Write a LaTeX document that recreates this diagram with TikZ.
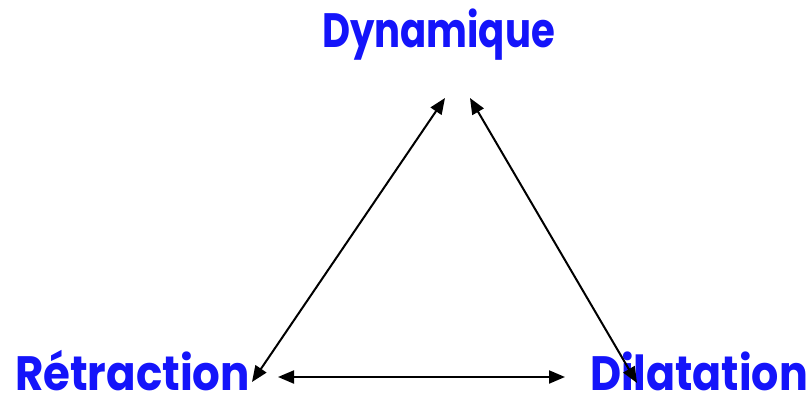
\documentclass[tikz,border=0pt]{standalone}
\usepackage{fontspec}
\setmainfont{Poppins}
\usetikzlibrary{arrows.meta}
\definecolor{labelblue}{RGB}{20,20,250}
\newcommand{\fitlabel}[2]{\resizebox{#1}{34pt}{\smash{#2}\rule{0pt}{\fontcharht\font`D}}}
\tikzset{
  lbl/.style={inner sep=0pt, outer sep=0pt, text=labelblue, font=\bfseries\fontsize{48}{50}\selectfont, anchor=base west},
  link/.style={line width=2pt, draw=black, {Triangle[length=16pt,width=13pt]}-{Triangle[length=16pt,width=13pt]}}
}
\begin{document}
\begin{tikzpicture}[x=1pt,y=-1pt]
\useasboundingbox (0,0) rectangle (811,396);
\node[lbl] (dyn) at (322,48) {\fitlabel{233pt}{Dynamique}};
\node[lbl] (ret) at (15,390) {\fitlabel{235pt}{Rétraction}};
\node[lbl] (dil) at (590,390) {\fitlabel{218pt}{Dilatation}};
\coordinate (dynL) at (445,98);
\coordinate (dynR) at (470,98);
\coordinate (retT) at (252,382);
\coordinate (retR) at (278,377);
\coordinate (dilL) at (565,377);
\coordinate (dilT) at (637,383);
\draw[link] (retT) -- (dynL);
\draw[link] (dynR) -- (dilT);
\draw[link] (retR) -- (dilL);
\end{tikzpicture}
\end{document}
